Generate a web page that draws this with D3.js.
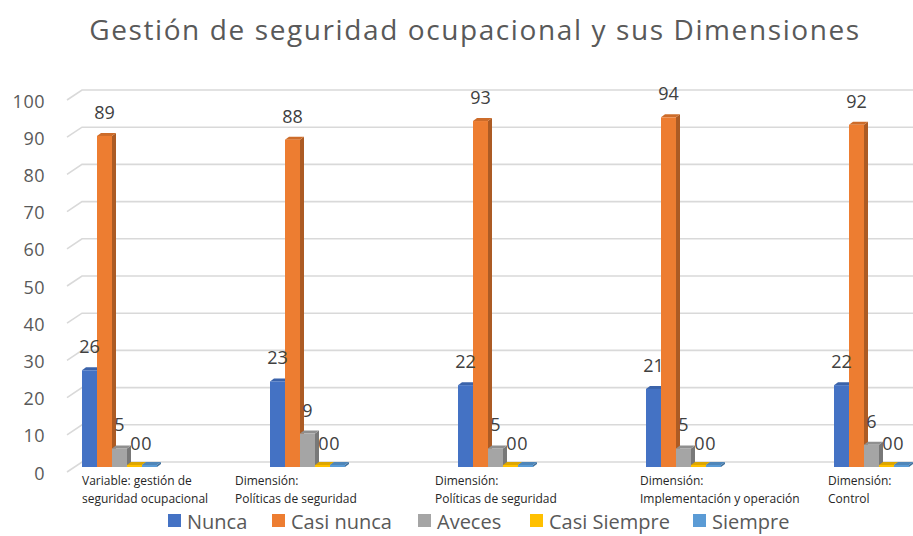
<!DOCTYPE html>
<html lang="es">
<head>
<meta charset="UTF-8">
<title>Gestión de seguridad ocupacional</title>
<script src="https://cdn.jsdelivr.net/npm/d3@7"></script>
<style>
  body { margin: 0; background: #fff; }
  svg { font-family: "Open Sans", sans-serif; }
</style>
</head>
<body>
<div id="chart"></div>
<script>
// data
var categories = [
  ["Variable: gestión de", "seguridad ocupacional"],
  ["Dimensión:", "Políticas de seguridad"],
  ["Dimensión:", "Políticas de seguridad"],
  ["Dimensión:", "Implementación y operación"],
  ["Dimensión:", "Control"]
];
var series = ["Nunca", "Casi nunca", "Aveces", "Casi Siempre", "Siempre"];
var nunca = [26, 23, 22, 21, 22];
var casiNunca = [89, 88, 93, 94, 92];
var aveces = [5, 9, 5, 5, 6];
var casiSiempre = [0, 0, 0, 0, 0];
var siempre = [0, 0, 0, 0, 0];
var yTicks = [0, 10, 20, 30, 40, 50, 60, 70, 80, 90, 100];

var colors = ["#4472C4", "#ED7D31", "#A5A5A5", "#FFC000", "#5B9BD5"];
var values = [nunca, casiNunca, aveces, casiSiempre, siempre];

var width = 913, height = 536;
var svg = d3.select("#chart").append("svg")
    .attr("width", width).attr("height", height);

var catIdx = d3.range(categories.length);
var x = d3.scaleBand().domain(catIdx).range([70, 70 + 188 * 5]);
var xs = d3.scaleBand().domain(series).range([12, 87]);
var y = d3.scaleLinear().domain([0, 100]).range([467, 95]);

// gridlines on the back wall, with a short slanted floor edge in front
var grid = svg.append("g");
yTicks.forEach(function (t) {
  var yy = y(t);
  grid.append("path")
    .attr("d", "M67," + (yy + 5) + "L82," + (yy - 5) + "L" + width + "," + (yy - 5))
    .attr("fill", "none").attr("stroke", "#d9d9d9").attr("stroke-width", 1.6);
});

// y axis labels
svg.append("g").selectAll("text").data(yTicks).enter().append("text")
  .attr("x", 45).attr("y", function (d) { return y(d) + 12.5; })
  .attr("text-anchor", "end").attr("font-size", 18).attr("letter-spacing", 0.5)
  .attr("fill", "#595959")
  .text(function (d) { return d; });

// bars with a little 3D side and top
var depth = 4, rise = 3;
function shade(c, k) { return d3.color(c).darker(k).formatHex(); }

var bars = svg.append("g");
catIdx.forEach(function (ci) {
  series.forEach(function (s, si) {
    var v = values[si][ci];
    var x0 = x(ci) + xs(s), w = xs.bandwidth();
    var top = y(v), bot = y(0);
    if (v === 0) { top = bot - 2; }
    var col = colors[si];
    bars.append("path")
      .attr("d", "M" + (x0 + w) + "," + bot + "L" + (x0 + w) + "," + top +
        "L" + (x0 + w + depth) + "," + (top - rise) + "L" + (x0 + w + depth) + "," + (bot - rise) + "Z")
      .attr("fill", shade(col, 0.9));
    bars.append("path")
      .attr("d", "M" + x0 + "," + top + "L" + (x0 + depth) + "," + (top - rise) +
        "L" + (x0 + w + depth) + "," + (top - rise) + "L" + (x0 + w) + "," + top + "Z")
      .attr("fill", shade(col, 0.4));
    bars.append("rect")
      .attr("x", x0).attr("y", top).attr("width", w).attr("height", bot - top)
      .attr("fill", col);
  });
});

// value labels
var labels = svg.append("g");
catIdx.forEach(function (ci) {
  series.forEach(function (s, si) {
    var v = values[si][ci];
    var shift = v === 0 ? (si === 3 ? 1 : -3) : 0;
    labels.append("text")
      .attr("x", x(ci) + xs(s) + xs.bandwidth() / 2 + shift)
      .attr("y", y(v) - 17)
      .attr("text-anchor", "middle").attr("font-size", 18).attr("fill", "#404040")
      .text(v);
  });
});

// category labels (Excel wrapped them at uneven spots)
var labelShift = [0, -35, -23, -6, -6];
var cats = svg.append("g");
catIdx.forEach(function (ci) {
  var lx = x(ci) + xs(series[0]) + labelShift[ci];
  var t = cats.append("text").attr("font-size", 12).attr("fill", "#262626");
  categories[ci].forEach(function (line, li) {
    t.append("tspan").attr("x", lx).attr("y", 485 + li * 18).text(line);
  });
});

// title
svg.append("text")
  .attr("x", 475).attr("y", 40)
  .attr("text-anchor", "middle").attr("font-size", 28).attr("letter-spacing", 1.6)
  .attr("fill", "#595959")
  .text("Gestión de seguridad ocupacional y sus Dimensiones");

// legend
var legendX = [168, 272, 418, 530, 693];
var lg = svg.append("g").selectAll("g").data(series).enter().append("g")
  .attr("transform", function (d, i) { return "translate(" + legendX[i] + ",514)"; });
lg.append("rect").attr("width", 13).attr("height", 13)
  .attr("fill", function (d, i) { return colors[i]; });
lg.append("text").attr("x", 19).attr("y", 15)
  .attr("font-size", 20).attr("fill", "#595959")
  .text(function (d) { return d; });
</script>
</body>
</html>
